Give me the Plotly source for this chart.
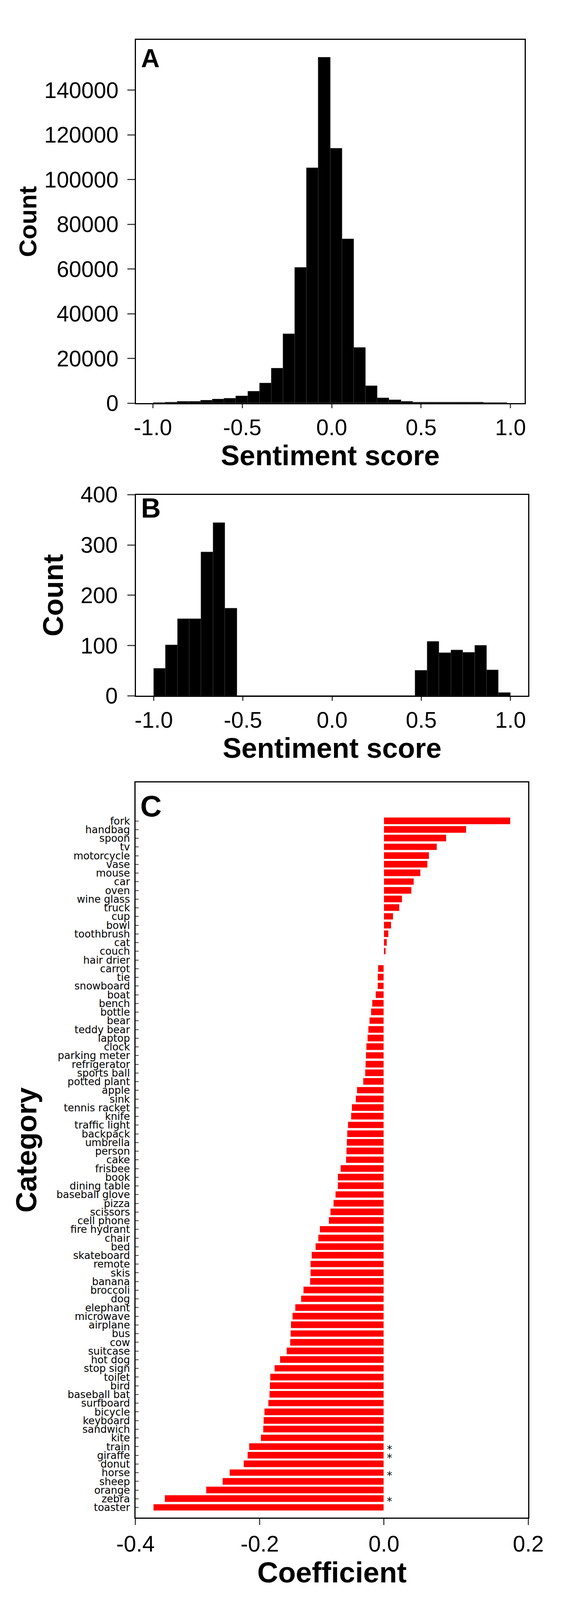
import plotly.graph_objects as go

# panel A: histogram of all sentiment scores (30 bins)
a_bin_start = -0.996
a_bin_width = 0.06587
a_counts = [160, 380, 650, 650, 1300, 1700, 2100, 3200, 5300, 9000,
            15500, 31000, 60600, 105200, 154700, 114000, 73400, 24900, 7700, 2350,
            1400, 650, 380, 380, 270, 330, 270, 380, 220, 160]

# panel B: histogram of strong sentiment scores (30 bins over -1..1)
b_bin_start = -1.0
b_bin_width = 2.0 / 30
b_counts = [54, 101, 153, 153, 286, 344, 174, 0, 0, 0,
            0, 0, 0, 0, 0, 0, 0, 0, 0, 0,
            0, 0, 50, 108, 85, 91, 86, 100, 51, 6]

sent_ticks = [-1.0, -0.5, 0.0, 0.5, 1.0]
sent_ticklabels = ["-1.0", "-0.5", "0.0", "0.5", "1.0"]
a_yticks = [0, 20000, 40000, 60000, 80000, 100000, 120000, 140000]
b_yticks = [0, 100, 200, 300, 400]

# panel C: regression coefficient per category
categories = ["fork", "handbag", "spoon", "tv", "motorcycle", "vase", "mouse", "car",
              "oven", "wine glass", "truck", "cup", "bowl", "toothbrush", "cat", "couch",
              "hair drier", "carrot", "tie", "snowboard", "boat", "bench", "bottle", "bear",
              "teddy bear", "laptop", "clock", "parking meter", "refrigerator", "sports ball",
              "potted plant", "apple", "sink", "tennis racket", "knife", "traffic light",
              "backpack", "umbrella", "person", "cake", "frisbee", "book", "dining table",
              "baseball glove", "pizza", "scissors", "cell phone", "fire hydrant", "chair",
              "bed", "skateboard", "remote", "skis", "banana", "broccoli", "dog", "elephant",
              "microwave", "airplane", "bus", "cow", "suitcase", "hot dog", "stop sign",
              "toilet", "bird", "baseball bat", "surfboard", "bicycle", "keyboard",
              "sandwich", "kite", "train", "giraffe", "donut", "horse", "sheep", "orange",
              "zebra", "toaster"]
coefs = [0.2037, 0.133, 0.1006, 0.0856, 0.0733, 0.0705, 0.0594, 0.0482,
         0.0449, 0.0298, 0.0254, 0.0153, 0.012, 0.0075, 0.0053, 0.0031,
         0.0, -0.0092, -0.0098, -0.0103, -0.0131, -0.0187, -0.0209, -0.0231,
         -0.0248, -0.0265, -0.0281, -0.0287, -0.0293, -0.0304,
         -0.0332, -0.0432, -0.0454, -0.0516, -0.0527, -0.0577,
         -0.0588, -0.0599, -0.0605, -0.061, -0.07, -0.0739, -0.0739,
         -0.0778, -0.0811, -0.0861, -0.0889, -0.1028, -0.1056,
         -0.1101, -0.1162, -0.1184, -0.1184, -0.119, -0.1296, -0.1335, -0.143,
         -0.1469, -0.1497, -0.1502, -0.1508, -0.1564, -0.1675, -0.1759,
         -0.1831, -0.1837, -0.1842, -0.1859, -0.1926, -0.1937,
         -0.1943, -0.1982, -0.2171, -0.2193, -0.226, -0.2483, -0.26, -0.2862,
         -0.3526, -0.371]
significant = ["train", "giraffe", "horse", "zebra"]
coef_ticks = [-0.4, -0.2, 0.0, 0.2325]
coef_ticklabels = ["-0.4", "-0.2", "0.0", "0.2"]

# reference canvas, used to turn pixel measurements into paper fractions
W, H = 1477, 4370
ARIAL = "Liberation Sans, Arial, sans-serif"
DEJAVU = "DejaVu Sans, sans-serif"

fig = go.Figure()

fig.add_trace(go.Bar(
    x0=a_bin_start + a_bin_width / 2, dx=a_bin_width, y=a_counts, width=a_bin_width,
    marker=dict(color="black", line=dict(color="#3c3c3c", width=1)),
    xaxis="x", yaxis="y", showlegend=False))

fig.add_trace(go.Bar(
    x0=b_bin_start + b_bin_width / 2, dx=b_bin_width, y=b_counts, width=b_bin_width,
    marker=dict(color="black", line=dict(color="#3c3c3c", width=1)),
    xaxis="x2", yaxis="y2", showlegend=False))

fig.add_trace(go.Bar(
    y=categories, x=coefs, orientation="h", width=0.8,
    marker=dict(color="#ff0000", line=dict(color="white", width=1)),
    xaxis="x3", yaxis="y3", showlegend=False))


def px_x(a, b):
    return [a / W, b / W]


def px_y(top, bottom):
    return [1 - bottom / H, 1 - top / H]


frame = dict(showline=True, mirror=True, linewidth=3, linecolor="black",
             showgrid=False, zeroline=False)
tickfont = dict(family=ARIAL, size=57, color="black")

fig.update_layout(
    autosize=True,
    margin=dict(l=0, r=0, t=0, b=0),
    paper_bgcolor="white", plot_bgcolor="white",
    bargap=0,
    xaxis=dict(domain=px_x(318, 1377), anchor="y", range=[-1.095, 1.079],
               tickvals=sent_ticks, ticktext=sent_ticklabels,
               ticks="outside", ticklen=10, tickwidth=3, tickfont=tickfont,
               title=dict(text="<b>Sentiment score</b>", standoff=5,
                          font=dict(family=ARIAL, size=72, color="black")),
               **frame),
    yaxis=dict(domain=px_y(76, 1084), anchor="x", range=[0, 162500],
               tickvals=a_yticks, tickformat="d",
               ticks="outside", ticklen=19, tickwidth=3, tickfont=tickfont,
               ticklabelstandoff=11,
               title=dict(text="<b>Count</b>", standoff=0,
                          font=dict(family=ARIAL, size=63, color="black")),
               **frame),
    xaxis2=dict(domain=px_x(318, 1387), anchor="y2", range=[-1.1, 1.1],
                tickvals=sent_ticks, ticktext=sent_ticklabels,
                ticks="outside", ticklen=10, tickwidth=3, tickfont=tickfont,
                title=dict(text="<b>Sentiment score</b>", standoff=9,
                           font=dict(family=ARIAL, size=72, color="black")),
                **frame),
    yaxis2=dict(domain=px_y(1338, 1896), anchor="x2", range=[0, 400],
                tickvals=b_yticks,
                ticks="outside", ticklen=19, tickwidth=3, tickfont=tickfont,
                ticklabelstandoff=13,
                title=dict(text="<b>Count</b>", standoff=21,
                           font=dict(family=ARIAL, size=73, color="black")),
                **frame),
    xaxis3=dict(domain=px_x(317, 1387), anchor="y3", range=[-0.4, 0.2325],
                tickvals=coef_ticks, ticktext=coef_ticklabels,
                ticks="outside", ticklen=16, tickwidth=3, tickfont=tickfont,
                title=dict(text="<b>Coefficient</b>", standoff=2,
                           font=dict(family=ARIAL, size=74, color="black")),
                **frame),
    yaxis3=dict(domain=px_y(2136, 4176), anchor="x3", type="category",
                categoryorder="array", categoryarray=categories,
                range=[len(categories) - 1 + 1.16, -4.44],
                tickmode="linear", tick0=0, dtick=1,
                ticks="inside", ticklen=8, tickwidth=2,
                ticklabelstandoff=6,
                tickfont=dict(family=DEJAVU, size=26, color="black"),
                title=dict(text="<b>Category</b>", standoff=27,
                           font=dict(family=ARIAL, size=74, color="black")),
                **frame),
)

# panel letters
for letter, cx, cy, size in [("A", 330, 127, 66), ("B", 330, 1375, 70), ("C", 328, 2202, 76)]:
    fig.add_annotation(text=f"<b>{letter}</b>", xref="paper", yref="paper",
                       x=cx / W, y=1 - cy / H, xanchor="left", yanchor="middle",
                       showarrow=False, font=dict(family=ARIAL, size=size, color="black"))

# significance markers
for cat in significant:
    fig.add_annotation(text="*", x=0, y=cat, xref="x3", yref="y3",
                       xanchor="left", yanchor="middle", xshift=6, yshift=-7,
                       showarrow=False, borderpad=0,
                       font=dict(family=DEJAVU, size=28, color="black"))

# fill the browser window exactly
fig.write_html("out.html", config={"displayModeBar": False},
               default_width="100vw", default_height="100vh",
               post_script="document.body.style.margin='0px';")
